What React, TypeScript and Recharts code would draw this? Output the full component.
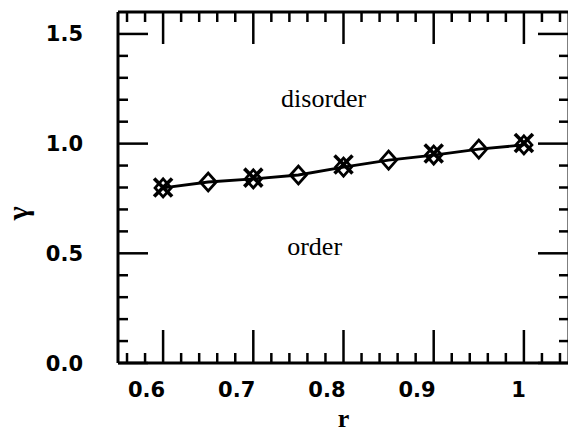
import * as React from "react";
import {
  ComposedChart,
  Line,
  Scatter,
  XAxis,
  YAxis,
  ReferenceDot,
  Label,
} from "recharts";

// diamonds at every r, crosses on the tenths
const R_VALUES = [0.6, 0.65, 0.7, 0.75, 0.8, 0.85, 0.9, 0.95, 1.0];
const GAMMA_DIAMOND = [0.798, 0.825, 0.839, 0.857, 0.893, 0.925, 0.948, 0.975, 0.994];
const R_CROSS = [0.6, 0.7, 0.8, 0.9, 1.0];
const GAMMA_CROSS = [0.8, 0.845, 0.905, 0.955, 1.003];

const X_TICKS = [
  0.56, 0.58, 0.6, 0.62, 0.64, 0.66, 0.68, 0.7, 0.72, 0.74, 0.76, 0.78, 0.8,
  0.82, 0.84, 0.86, 0.88, 0.9, 0.92, 0.94, 0.96, 0.98, 1.0, 1.02, 1.04,
];
const X_MAJOR = [0.6, 0.7, 0.8, 0.9, 1.0];
const X_LABELS = ["0.6", "0.7", "0.8", "0.9", "1"];
const Y_TICKS = [0, 0.1, 0.2, 0.3, 0.4, 0.5, 0.6, 0.7, 0.8, 0.9, 1.0, 1.1, 1.2, 1.3, 1.4, 1.5];
const Y_MAJOR = [0, 0.5, 1.0, 1.5];
const Y_LABELS = ["0.0", "0.5", "1.0", "1.5"];

const diamondData = R_VALUES.map((r, i) => ({ r, gamma: GAMMA_DIAMOND[i] }));
const crossData = R_CROSS.map((r, i) => ({ r, gamma: GAMMA_CROSS[i] }));

const tickFont = { fontFamily: "DejaVu Sans", fontWeight: 700, fontSize: 21 };
const serif = "Liberation Serif";

const majorIndex = (list: number[], v: number) =>
  list.findIndex((m) => Math.abs(m - v) < 1e-6);

const BottomTick = ({ x, y, payload }: any) => {
  const i = majorIndex(X_MAJOR, payload.value);
  const len = i >= 0 ? 33 : 10;
  return (
    <g>
      <line x1={x} y1={y} x2={x} y2={y - len} stroke="#000" strokeWidth={2.5} />
      {i >= 0 && (
        <text x={x + 2} y={y + 34} textAnchor="end" fill="#000" {...tickFont}>
          {X_LABELS[i]}
        </text>
      )}
    </g>
  );
};

const TopTick = ({ x, y, payload }: any) => {
  const i = majorIndex(X_MAJOR, payload.value);
  const len = i >= 0 ? 32 : 10;
  return <line x1={x} y1={y} x2={x} y2={y + len} stroke="#000" strokeWidth={2.5} />;
};

const LeftTick = ({ x, y, payload }: any) => {
  const i = majorIndex(Y_MAJOR, payload.value);
  const len = i >= 0 ? 30 : 10;
  return (
    <g>
      <line x1={x} y1={y} x2={x + len} y2={y} stroke="#000" strokeWidth={2.5} />
      {i >= 0 && (
        <text x={x - 35} y={y} dy="0.36em" textAnchor="end" fill="#000" {...tickFont}>
          {Y_LABELS[i]}
        </text>
      )}
    </g>
  );
};

const RightTick = ({ x, y, payload }: any) => {
  const i = majorIndex(Y_MAJOR, payload.value);
  const len = i >= 0 ? 31 : 10;
  return <line x1={x} y1={y} x2={x - len} y2={y} stroke="#000" strokeWidth={2.5} />;
};

const Diamond = ({ cx, cy }: any) => {
  if (cx == null || cy == null) return null;
  return (
    <path
      d={`M${cx - 8},${cy} L${cx},${cy - 9} L${cx + 8},${cy} L${cx},${cy + 9} Z`}
      fill="none"
      stroke="#000"
      strokeWidth={2.8}
    />
  );
};

const Cross = ({ cx, cy }: any) => (
  <g stroke="#000" strokeWidth={3.6} strokeLinecap="butt">
    <line x1={cx - 9} y1={cy - 9} x2={cx + 9} y2={cy + 9} />
    <line x1={cx - 9} y1={cy + 9} x2={cx + 9} y2={cy - 9} />
  </g>
);

const GammaLabel = ({ viewBox }: any) => {
  const x = viewBox.x + 10;
  const y = viewBox.y + viewBox.height * 0.573;
  return (
    <text
      x={x}
      y={y}
      textAnchor="middle"
      dominantBaseline="central"
      transform={`rotate(-90 ${x} ${y})`}
      fontFamily={serif}
      fontWeight={700}
      fontSize={30}
      fill="#000"
    >
      γ
    </text>
  );
};

export default function App() {
  return (
    <div
      style={{
        position: "absolute",
        left: 0,
        top: 0,
        width: 568,
        height: 432,
        overflow: "hidden",
        background: "#fff",
      }}
    >
      <ComposedChart
        width={572}
        height={432}
        data={diamondData}
        margin={{ top: 11, right: 2, bottom: 0, left: 8 }}
      >
        <XAxis
          xAxisId="bottom"
          dataKey="r"
          type="number"
          domain={[0.55, 1.05]}
          ticks={X_TICKS}
          interval={0}
          allowDataOverflow
          height={69}
          tickSize={0}
          tickMargin={0}
          tickLine={false}
          axisLine={{ stroke: "#000", strokeWidth: 3 }}
          tick={<BottomTick />}
          label={{
            value: "r",
            position: "insideBottom",
            offset: 5,
            fontFamily: serif,
            fontWeight: 700,
            fontSize: 26,
            fill: "#000",
          }}
        />
        <XAxis
          xAxisId="top"
          orientation="top"
          dataKey="r"
          type="number"
          domain={[0.55, 1.05]}
          ticks={X_TICKS}
          interval={0}
          allowDataOverflow
          height={1}
          tickSize={0}
          tickMargin={0}
          tickLine={false}
          axisLine={{ stroke: "#000", strokeWidth: 3 }}
          tick={<TopTick />}
        />
        <YAxis
          yAxisId="left"
          dataKey="gamma"
          type="number"
          domain={[0, 1.6]}
          ticks={Y_TICKS}
          interval={0}
          allowDataOverflow
          width={110}
          tickSize={0}
          tickMargin={0}
          tickLine={false}
          axisLine={{ stroke: "#000", strokeWidth: 3 }}
          tick={<LeftTick />}
        >
          <Label content={<GammaLabel />} />
        </YAxis>
        <YAxis
          yAxisId="right"
          orientation="right"
          dataKey="gamma"
          type="number"
          domain={[0, 1.6]}
          ticks={Y_TICKS}
          interval={0}
          allowDataOverflow
          width={1}
          tickSize={0}
          tickMargin={0}
          tickLine={false}
          axisLine={{ stroke: "#000", strokeWidth: 3 }}
          tick={<RightTick />}
        />
        <Line
          xAxisId="bottom"
          yAxisId="left"
          dataKey="gamma"
          type="linear"
          stroke="#000"
          strokeWidth={2.8}
          dot={(p: any) => <Diamond key={`d-${p.index}`} {...p} />}
          activeDot={false}
          isAnimationActive={false}
        />
        <Scatter
          xAxisId="bottom"
          yAxisId="left"
          data={crossData}
          dataKey="gamma"
          shape={<Cross />}
          isAnimationActive={false}
        />
        <ReferenceDot
          xAxisId="bottom"
          yAxisId="left"
          x={0.778}
          y={1.209}
          r={0}
          fill="none"
          stroke="none"
          label={{
            value: "disorder",
            position: "center",
            fontFamily: serif,
            fontSize: 26,
            fill: "#000",
          }}
        />
        <ReferenceDot
          xAxisId="bottom"
          yAxisId="left"
          x={0.768}
          y={0.534}
          r={0}
          fill="none"
          stroke="none"
          label={{
            value: "order",
            position: "center",
            fontFamily: serif,
            fontSize: 26,
            fill: "#000",
          }}
        />
      </ComposedChart>
    </div>
  );
}
